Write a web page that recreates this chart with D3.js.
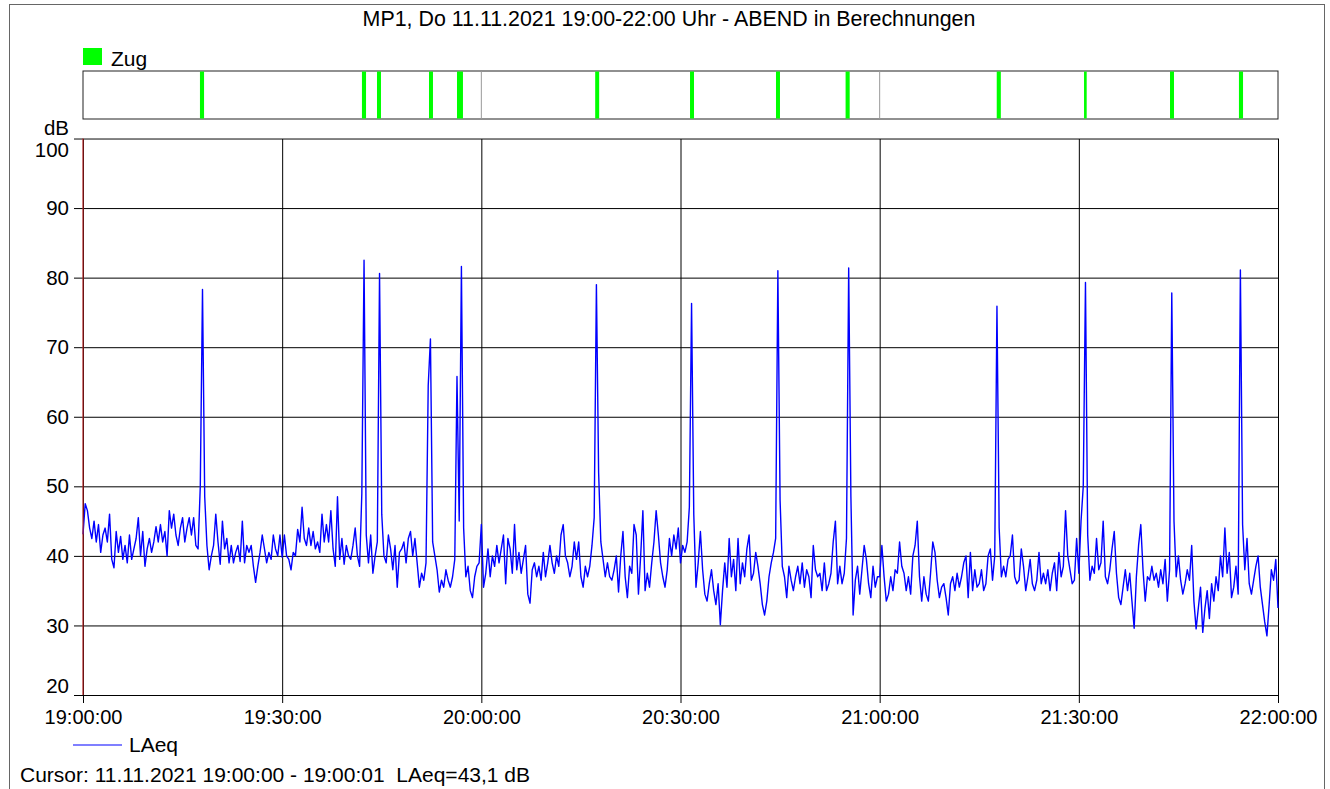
<!DOCTYPE html>
<html>
<head>
<meta charset="utf-8">
<script src="https://cdn.jsdelivr.net/npm/d3@7"></script>
<style>
  body { margin: 0; background: #fff; }
  svg { display: block; font-family: "Liberation Sans", Arial, sans-serif; }
</style>
</head>
<body>
<svg id="chart" width="1330" height="789"></svg>
<script>
var title = "MP1, Do 11.11.2021 19:00-22:00 Uhr - ABEND in Berechnungen";
var seriesName = "LAeq";
var eventName = "Zug";
var cursorText = "Cursor: 11.11.2021 19:00:00 - 19:00:01  LAeq=43,1 dB";
var yUnit = "dB";
var yTicks = [20, 30, 40, 50, 60, 70, 80, 90, 100];
var xTicks = ["19:00:00", "19:30:00", "20:00:00", "20:30:00", "21:00:00", "21:30:00", "22:00:00"];
var stripHours = ["20:00:00", "21:00:00"];
var startTime = "19:00:00";
var stepSeconds = 20;

// LAeq, one value every 20 s from 19:00:00 to 22:00:00
var laeq = [
  43.1, 47.5, 46.5, 44, 42.5, 45, 42, 44.5, 40.5, 43,
  44, 42, 46, 39.5, 38.3, 43.5, 40.5, 42.8, 39.5, 41.5,
  39, 43, 39.5, 41, 42.5, 45.5, 40, 43.5, 38.5, 41,
  42.5, 40.5, 42, 44.2, 42, 44.5, 42, 43.5, 40, 46.5,
  44, 46, 43, 41.5, 44, 45.5, 42, 44, 45.5, 43,
  45.5, 41.5, 41, 50, 78.3, 48.5, 41.5, 38, 40, 41.5,
  46, 42, 38.8, 45, 41, 42.5, 39, 41.5, 39, 40.5,
  41.5, 39.2, 45, 39, 41.5, 40.5, 41.5, 38.5, 36.2, 38.5,
  40.5, 43, 41, 39, 40.5, 39.5, 43, 41, 40, 43,
  39.8, 43, 40, 39.5, 38, 40.5, 40, 43.8, 42, 47,
  42.5, 41.5, 44, 41.5, 43.5, 41, 42, 40.5, 46, 42,
  44.5, 42, 46.5, 41, 38.5, 48.5, 39.5, 42.5, 38.8, 41.5,
  40, 39.5, 41.5, 44, 40, 38.5, 49, 82.5, 43, 39,
  43, 37.5, 40, 42, 80.6, 46, 40, 39, 43, 41,
  38, 41.5, 35.5, 40.5, 41, 42, 39, 42.5, 43.5, 40,
  42.5, 39, 35.5, 37.5, 36.5, 39, 64.5, 71.2, 42, 40,
  38, 34.8, 36.5, 35.5, 38, 36.5, 35.5, 37, 39.5, 65.8,
  45, 81.6, 44, 37, 38.5, 35, 34, 37, 38.5, 39,
  44.5, 35.5, 37.5, 41, 37, 40, 38.5, 41.5, 39, 41,
  43, 36, 42.5, 41, 37.5, 44.5, 38, 40.5, 37.5, 39.5,
  41.5, 34.5, 33.2, 38, 39, 37, 38.5, 36.5, 40.5, 37,
  39, 41.5, 39, 37.5, 40, 38.5, 43, 44.5, 40, 39,
  37, 38.5, 42, 39.5, 42, 37, 35.5, 38.5, 37, 38.5,
  41.5, 45.5, 79, 52, 42, 39.5, 37, 39, 37, 36.5,
  38, 40, 34.8, 40, 43.5, 37, 34, 38.5, 37.5, 44.5,
  43, 34.5, 40, 46.5, 35, 37.5, 35.5, 39, 42, 46.5,
  43, 39, 37, 35.5, 38, 42.5, 40, 43, 41, 44,
  39, 41.5, 40.5, 42, 47, 76.3, 46, 35.5, 39, 43.5,
  38, 34.5, 33.5, 36, 38, 35, 33, 36, 30.1, 35,
  39, 35.5, 42.5, 37, 39.5, 35, 42.5, 36, 39, 37,
  41, 43, 36.5, 37.5, 40.5, 38.5, 36, 33, 31.5, 33.5,
  37, 39, 40.5, 42.5, 81, 48, 38.5, 37, 34, 38.5,
  36.5, 35, 37, 38.5, 36, 39, 35.5, 38, 37, 34,
  41.5, 38, 37, 37.5, 35, 39, 35, 36, 37.5, 42,
  45, 36, 38.5, 36, 37.5, 42.5, 81.4, 48.5, 31.5, 36.5,
  38.5, 34.5, 38, 41.5, 39.5, 36, 34, 38.5, 35.5, 37,
  37, 41.5, 37, 33.5, 34.5, 37, 35, 38, 37.5, 42,
  38.5, 37.5, 35, 37, 34.5, 40, 41.5, 45, 37, 33.5,
  37, 34.5, 33.5, 37.5, 42, 40.5, 36.5, 34, 35.5, 36,
  34, 31.5, 36, 37, 35, 37.5, 35.5, 37, 39, 40,
  34, 40.5, 35, 38, 35.5, 36, 38, 35, 36, 40,
  41, 36.5, 40, 75.9, 44, 37, 38.5, 37, 39.5, 40,
  43, 37, 36, 36.5, 41, 38.5, 35, 37, 39.5, 36,
  35, 36.5, 40.5, 36, 37.5, 36, 38, 35, 37.5, 39,
  35, 40.5, 37, 38.5, 46.5, 40, 38, 36, 36.5, 42.5,
  37.5, 45, 50, 79.3, 43, 36.5, 38.5, 37.5, 42.5, 38,
  39, 45, 37, 36, 38, 41, 43.5, 37.5, 34, 33,
  35.5, 38, 35, 37.5, 33.5, 29.6, 37, 41.5, 44.5, 38,
  33.5, 37, 36.5, 38.5, 36.5, 37.5, 35.5, 38, 36, 39.5,
  33.5, 38, 77.8, 45, 37, 40, 36.5, 34.5, 36, 38,
  36.5, 41.5, 33.5, 29.5, 32.5, 35.5, 29, 32.5, 35, 31,
  36, 33.5, 37, 35, 40, 37, 44, 37.5, 40.5, 34,
  35.5, 38.5, 34.5, 81.1, 44.5, 38, 42.5, 36, 34.5, 36.5,
  38.5, 40, 35.5, 33, 30.5, 28.5, 33, 38, 36.5, 39.5,
  32.5
];

// train passages (Zug), start and end
var eventStart = ["19:17:37", "19:42:01", "19:44:17", "19:52:07", "19:56:20", "20:17:09", "20:31:26",
                  "20:44:23", "20:54:52", "21:17:38", "21:30:47", "21:43:44", "21:54:07"];
var eventEnd   = ["19:18:14", "19:42:38", "19:44:53", "19:52:43", "19:57:14", "20:17:45", "20:32:02",
                  "20:44:59", "20:55:29", "21:18:15", "21:31:11", "21:44:20", "21:54:44"];

var parseTime = d3.timeParse("%Y-%m-%d %H:%M:%S");
function toDate(t) { return parseTime("2021-11-11 " + t); }

var t0 = toDate(startTime);
var data = laeq.map(function (v, i) {
    return { time: d3.timeSecond.offset(t0, i * stepSeconds), value: v };
});

var svg = d3.select("#chart");
var plotLeft = 83, plotRight = 1278, plotTop = 138.5, plotBottom = 695;
var stripTop = 71, stripBottom = 119;

var xScale = d3.scaleTime()
    .domain([toDate(xTicks[0]), toDate(xTicks[xTicks.length - 1])])
    .range([plotLeft, plotRight]);

var yScale = d3.scaleLinear()
    .domain([20, 100])
    .range([plotBottom, plotTop]);

// outer frame
svg.append("rect")
    .attr("x", 9.5).attr("y", 4.5)
    .attr("width", 1315).attr("height", 800)
    .attr("fill", "none").attr("stroke", "#666");

// title
svg.append("text")
    .attr("x", 669).attr("y", 26)
    .attr("text-anchor", "middle")
    .style("font-size", "21.4px")
    .text(title);

// event legend
svg.append("rect")
    .attr("x", 83).attr("y", 48).attr("width", 19).attr("height", 17)
    .attr("fill", "#00ff00");
svg.append("text")
    .attr("x", 111).attr("y", 66)
    .style("font-size", "21px")
    .text(eventName);

// event strip
svg.append("rect")
    .attr("x", plotLeft).attr("y", stripTop)
    .attr("width", plotRight - plotLeft).attr("height", stripBottom - stripTop)
    .attr("fill", "#fff").attr("stroke", "#222");

svg.selectAll(".hourline").data(stripHours).enter().append("line")
    .attr("class", "hourline")
    .attr("x1", function (d) { return xScale(toDate(d)); })
    .attr("x2", function (d) { return xScale(toDate(d)); })
    .attr("y1", stripTop).attr("y2", stripBottom)
    .attr("stroke", "#999");

svg.selectAll(".event").data(eventStart).enter().append("rect")
    .attr("class", "event")
    .attr("x", function (d) { return xScale(toDate(d)); })
    .attr("y", stripTop + 0.5)
    .attr("width", function (d, i) { return xScale(toDate(eventEnd[i])) - xScale(toDate(d)); })
    .attr("height", stripBottom - stripTop - 1)
    .attr("fill", "#00ff00");

// y grid + ticks
var yAxis = d3.axisLeft(yScale)
    .tickValues(yTicks)
    .tickSize(-(plotRight - plotLeft))
    .tickPadding(14)
    .tickFormat(d3.format("d"));

var gy = svg.append("g")
    .attr("transform", "translate(" + plotLeft + ",0)")
    .call(yAxis);
gy.select(".domain").remove();
gy.selectAll(".tick line")
    .attr("x1", -9)
    .attr("stroke", "#000");
gy.selectAll(".tick text")
    .style("font-size", "20.5px")
    .style("font-family", "Liberation Sans, Arial, sans-serif")
    .attr("fill", "#000")
    .attr("y", function (d) {
        // end labels are kept inside the plot
        if (d === yTicks[yTicks.length - 1]) return 11;
        if (d === yTicks[0]) return -9;
        return 0;
    });

svg.append("text")
    .attr("x", 69).attr("y", 135)
    .attr("text-anchor", "end")
    .style("font-size", "20.5px")
    .text(yUnit);

// x grid + ticks
var xAxis = d3.axisBottom(xScale)
    .tickValues(xTicks.map(toDate))
    .tickSize(-(plotBottom - plotTop))
    .tickPadding(15)
    .tickFormat(d3.timeFormat("%H:%M:%S"));

var gx = svg.append("g")
    .attr("transform", "translate(0," + plotBottom + ")")
    .call(xAxis);
gx.select(".domain").remove();
gx.selectAll(".tick line")
    .attr("y1", 8)
    .attr("stroke", "#000");
gx.selectAll(".tick text")
    .style("font-size", "20px")
    .style("font-family", "Liberation Sans, Arial, sans-serif")
    .attr("fill", "#000");

// top border in grey
svg.append("line")
    .attr("x1", 74).attr("x2", plotRight)
    .attr("y1", plotTop).attr("y2", plotTop)
    .attr("stroke", "#888");

// series
var line = d3.line()
    .x(function (d) { return xScale(d.time); })
    .y(function (d) { return yScale(d.value); });

svg.append("path")
    .datum(data)
    .attr("d", line)
    .attr("fill", "none")
    .attr("stroke", "#0000ff")
    .attr("stroke-width", 1.4)
    .attr("stroke-linejoin", "round");

// cursor
svg.append("line")
    .attr("x1", xScale(t0)).attr("x2", xScale(t0))
    .attr("y1", plotTop).attr("y2", plotBottom)
    .attr("stroke", "#b22222")
    .attr("stroke-width", 1.2);

// series legend
svg.append("line")
    .attr("x1", 73).attr("x2", 122)
    .attr("y1", 745).attr("y2", 745)
    .attr("stroke", "#0000ff").attr("stroke-width", 1.2);
svg.append("text")
    .attr("x", 129).attr("y", 752)
    .style("font-size", "21px")
    .text(seriesName);

svg.append("text")
    .attr("x", 20).attr("y", 782)
    .style("font-size", "21px")
    .style("white-space", "pre")
    .text(cursorText);
</script>
</body>
</html>
